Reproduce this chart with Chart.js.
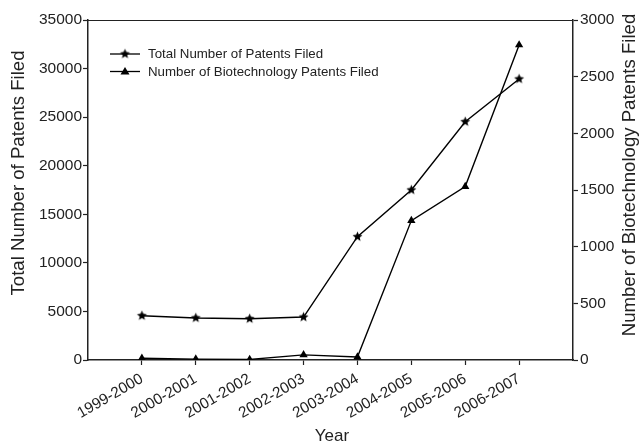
<!DOCTYPE html>
<html>
<head>
<meta charset="utf-8">
<script src="https://cdn.jsdelivr.net/npm/chart.js@4/dist/chart.umd.min.js"></script>
<style>
  html, body { margin: 0; padding: 0; background: #fff; }
  #wrap { width: 639px; height: 443px; position: relative; }
</style>
</head>
<body>
<div id="wrap"><canvas id="patentChart"></canvas></div>
<script>
// values
const categories = ['1999-2000', '2000-2001', '2001-2002', '2002-2003', '2003-2004', '2004-2005', '2005-2006', '2006-2007'];
const totalPatents = [4560, 4330, 4250, 4420, 12690, 17500, 24530, 28930];
const biotechPatents = [15, 8, 5, 45, 26, 1230, 1530, 2780];
const legendLabels = ['Total Number of Patents Filed', 'Number of Biotechnology Patents Filed'];

const FONT = "'Liberation Sans', Arial, Helvetica, sans-serif";
const INK = '#222';

// filled five point star used as point marker
function makeStar(r) {
  const c = document.createElement('canvas');
  const s = Math.ceil(r * 2 + 2);
  c.width = s; c.height = s;
  const g = c.getContext('2d');
  g.fillStyle = '#000';
  g.beginPath();
  for (let i = 0; i < 10; i++) {
    const rad = i % 2 === 0 ? r : r * 0.45;
    const a = -Math.PI / 2 + i * Math.PI / 5;
    const px = s / 2 + rad * Math.cos(a), py = s / 2 + rad * Math.sin(a);
    i === 0 ? g.moveTo(px, py) : g.lineTo(px, py);
  }
  g.closePath();
  g.fill();
  return c;
}
const starImg = makeStar(5.2);

// frame, legend and the two axis titles
const decorPlugin = {
  id: 'decor',
  afterDraw(chart) {
    const { ctx, chartArea: a } = chart;
    ctx.save();
    ctx.strokeStyle = INK;
    ctx.lineWidth = 1.2;
    ctx.beginPath();
    ctx.moveTo(a.left, a.top + 0.5);
    ctx.lineTo(a.right, a.top + 0.5);
    ctx.stroke();

    // legend
    const rows = [54, 71.5];
    ctx.lineWidth = 1.3;
    ctx.strokeStyle = '#000';
    rows.forEach((y, i) => {
      ctx.beginPath();
      ctx.moveTo(110, y);
      ctx.lineTo(140, y);
      ctx.stroke();
      if (i === 0) {
        ctx.drawImage(starImg, 125 - starImg.width / 2, y - starImg.height / 2);
      } else {
        ctx.fillStyle = '#000';
        ctx.beginPath();
        ctx.moveTo(125, y - 4.5);
        ctx.lineTo(129.5, y + 3);
        ctx.lineTo(120.5, y + 3);
        ctx.closePath();
        ctx.fill();
      }
      ctx.fillStyle = INK;
      ctx.font = '13.3px ' + FONT;
      ctx.textAlign = 'left';
      ctx.textBaseline = 'middle';
      ctx.fillText(legendLabels[i], 148, y + 0.5);
    });

    // axis titles
    ctx.fillStyle = INK;
    ctx.font = '18.6px ' + FONT;
    ctx.textAlign = 'center';
    ctx.textBaseline = 'middle';
    ctx.save();
    ctx.translate(19, 173);
    ctx.rotate(-Math.PI / 2);
    ctx.fillText('Total Number of Patents Filed', 0, 0);
    ctx.restore();
    ctx.save();
    ctx.translate(630, 175);
    ctx.rotate(-Math.PI / 2);
    ctx.fillText('Number of Biotechnology Patents Filed', 0, 0);
    ctx.restore();
    ctx.font = '17px ' + FONT;
    ctx.fillText('Year', 332, 436);
    ctx.restore();
  }
};

new Chart(document.getElementById('patentChart').getContext('2d'), {
  type: 'line',
  data: {
    datasets: [
      {
        label: legendLabels[0],
        data: totalPatents.map((v, i) => ({ x: i + 1, y: v })),
        yAxisID: 'y',
        borderColor: '#000',
        borderWidth: 1.4,
        pointStyle: starImg,
        pointRadius: 5,
        tension: 0
      },
      {
        label: legendLabels[1],
        data: biotechPatents.map((v, i) => ({ x: i + 1, y: v })),
        yAxisID: 'y2',
        borderColor: '#000',
        backgroundColor: '#000',
        borderWidth: 1.4,
        pointStyle: 'triangle',
        pointRadius: 4.8,
        pointBorderWidth: 0,
        tension: 0
      }
    ]
  },
  options: {
    responsive: true,
    maintainAspectRatio: false,
    animation: false,
    layout: { padding: { top: 20, left: 0, right: 0, bottom: 0 } },
    plugins: {
      legend: { display: false },
      tooltip: { enabled: false }
    },
    scales: {
      x: {
        type: 'linear',
        min: 0,
        max: 9,
        afterBuildTicks: (s) => { s.ticks = categories.map((c, i) => ({ value: i + 1 })); },
        afterFit: (s) => { s.height = 83; },
        border: { color: INK, width: 1.5 },
        grid: { drawOnChartArea: false, color: INK, tickLength: 5, tickWidth: 1.2 },
        ticks: {
          color: INK,
          font: { family: FONT, size: 15.3 },
          minRotation: 30,
          maxRotation: 30,
          padding: 5,
          callback: (v) => categories[v - 1]
        }
      },
      y: {
        position: 'left',
        min: 0,
        max: 35000,
        afterFit: (s) => { s.width = 88; },
        border: { color: INK, width: 1.5 },
        grid: { drawOnChartArea: false, color: INK, tickLength: 5, tickWidth: 1.2 },
        ticks: { stepSize: 5000, color: INK, font: { family: FONT, size: 15.5 }, padding: 1, callback: (v) => String(v) }
      },
      y2: {
        position: 'right',
        min: 0,
        max: 3000,
        afterFit: (s) => { s.width = 66; },
        border: { color: INK, width: 1.5 },
        grid: { drawOnChartArea: false, color: INK, tickLength: 5, tickWidth: 1.2 },
        ticks: { stepSize: 500, color: INK, font: { family: FONT, size: 15.5 }, padding: 2, callback: (v) => String(v) }
      }
    }
  },
  plugins: [decorPlugin]
});
</script>
</body>
</html>
